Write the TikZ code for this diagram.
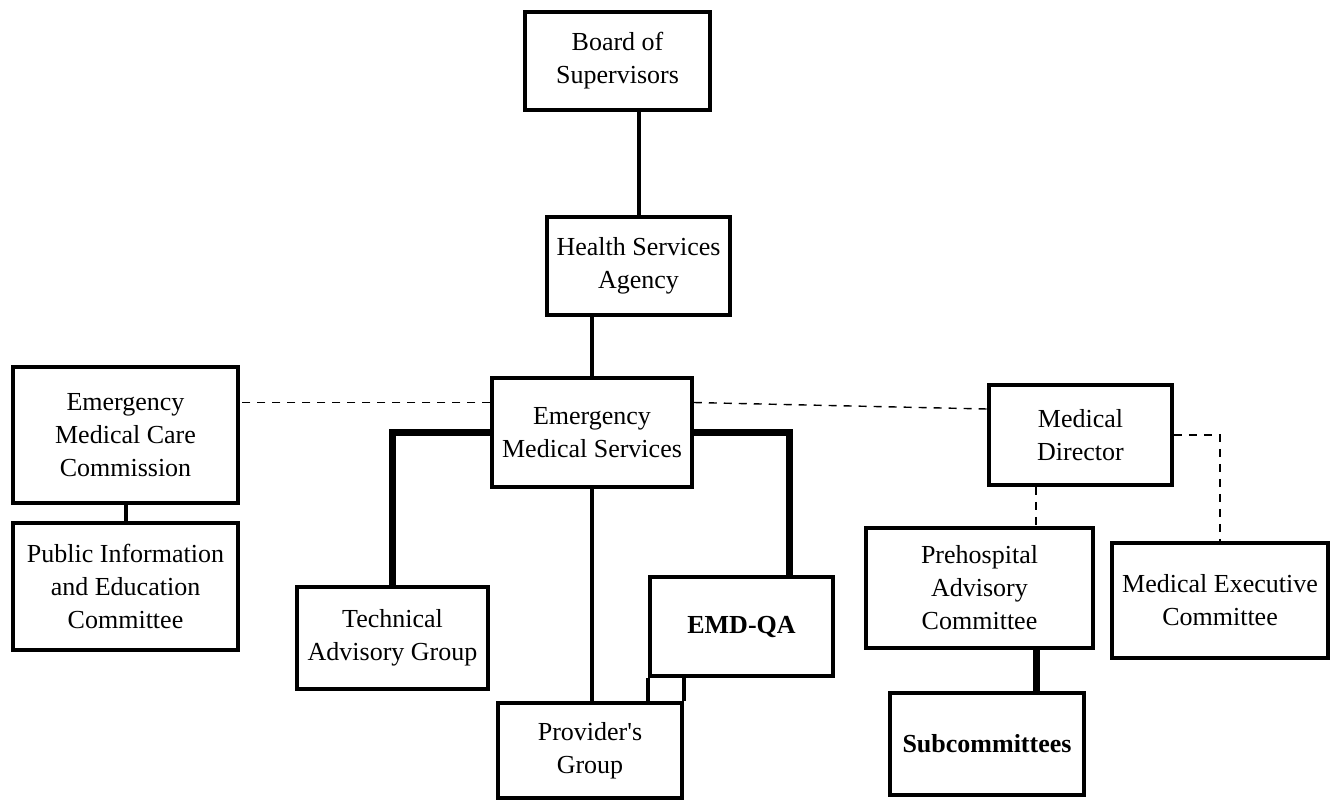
\documentclass[tikz,border=0pt]{standalone}
\usepackage{fontspec}
\setmainfont{Liberation Serif}
\usetikzlibrary{calc}

\tikzset{
  orgbox/.style={draw, line width=1.75pt, align=center, inner sep=2pt,
    font=\fontsize{13}{16.5}\selectfont},
  solidlink/.style={line width=2pt},
  heavylink/.style={line width=3.5pt},
  dashlink/.style={line width=0.7pt, dash pattern=on 4pt off 3.5pt},
}

\begin{document}
\begin{tikzpicture}[x=0.5pt, y=-0.5pt]
    \useasboundingbox (0,0) rectangle (1336,802);

    % boxes
    \node[orgbox, minimum width=92.5pt, minimum height=49pt] (board) at (617.5,61) {Board of\\Supervisors};
    \node[orgbox, minimum width=91.5pt, minimum height=49pt] (hsa) at (638.5,266) {Health Services\\Agency};
    \node[orgbox, minimum width=100pt, minimum height=54.5pt] (ems) at (592,432.5) {Emergency\\Medical Services};
    \node[orgbox, minimum width=112.5pt, minimum height=68pt] (emcc) at (125.5,435) {Emergency\\Medical Care\\Commission};
    \node[orgbox, minimum width=112.5pt, minimum height=63.5pt] (pied) at (125.5,586.5) {Public Information\\and Education\\Committee};
    \node[orgbox, minimum width=95.5pt, minimum height=51pt] (tag) at (392.5,638) {Technical\\Advisory Group};
    \node[orgbox, minimum width=91.5pt, minimum height=49.5pt, font=\fontsize{13}{16}\selectfont\bfseries] (emdqa) at (741.5,626.5) {EMD-QA};
    \node[orgbox, minimum width=92pt, minimum height=47.5pt] (prov) at (590,750.5) {Provider\textquotesingle s\\Group};
    \node[orgbox, minimum width=91.5pt, minimum height=50pt] (md) at (1080.5,435) {Medical\\Director};
    \node[orgbox, minimum width=113.5pt, minimum height=60pt] (pac) at (979.5,588) {Prehospital\\Advisory\\Committee};
    \node[orgbox, minimum width=108pt, minimum height=57.5pt] (mec) at (1220,600.5) {Medical Executive\\Committee};
    \node[orgbox, minimum width=97pt, minimum height=51pt, font=\fontsize{13}{16}\selectfont\bfseries] (subc) at (987,744) {Subcommittees};

    \coordinate (qax) at (789,0);
    \coordinate (pacx) at (1036,0);
    \coordinate (emsl) at ($(ems.west)+(0,-30)$);
    \coordinate (emsr) at ($(ems.east)+(0,-30)$);
    \coordinate (mdl) at ($(md.west)+(0,-26)$);

    % solid lines
    \draw[solidlink] (hsa.north) -- (hsa.north |- board.south);
    \draw[solidlink] (ems.north) -- (ems.north |- hsa.south);
    \draw[solidlink] (emcc.south) -- (pied.north);
    \draw[solidlink] (ems.south) -- (ems.south |- prov.north);
    \draw[solidlink] (emdqa.south west) -- (emdqa.south west |- prov.north);
    \draw[solidlink] (prov.north east) -- (prov.north east |- emdqa.south);

    \draw[heavylink] (ems.west) -| (tag.north);
    \draw[heavylink] (ems.east) -| (qax |- emdqa.north);
    \draw[heavylink] (pacx |- pac.south) -- (pacx |- subc.north);

    % dashed lines
    \draw[dashlink] (emsl) -- (emsl -| emcc.east);
    \draw[dashlink] (emsr) -- (mdl);
    \draw[dashlink] (md.east) -| (mec.north);
    \draw[dashlink] (pacx |- md.south) -- (pacx |- pac.north);

\end{tikzpicture}
\end{document}
